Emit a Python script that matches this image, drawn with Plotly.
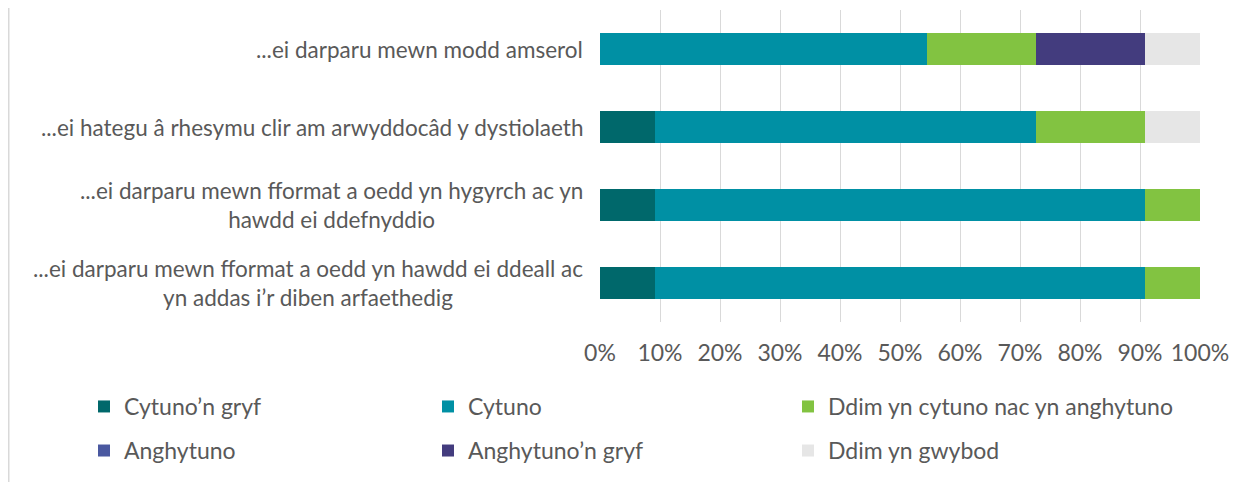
import plotly.graph_objects as go

categories = [
    "...ei darparu mewn modd amserol",
    "...ei hategu â rhesymu clir am arwyddocâd y dystiolaeth",
    "...ei darparu mewn fformat a oedd yn hygyrch ac yn<br>hawdd ei ddefnyddio",
    "...ei darparu mewn fformat a oedd yn hawdd ei ddeall ac<br>yn addas i’r diben arfaethedig",
]
series_names = [
    "Cytuno’n gryf",
    "Cytuno",
    "Ddim yn cytuno nac yn anghytuno",
    "Anghytuno",
    "Anghytuno’n gryf",
    "Ddim yn gwybod",
]
cytuno_gryf = [0.0, 9.1, 9.1, 9.1]
cytuno = [54.5, 63.6, 81.8, 81.8]
ddim_cytuno_nac = [18.2, 18.2, 9.1, 9.1]
anghytuno = [0.0, 0.0, 0.0, 0.0]
anghytuno_gryf = [18.2, 0.0, 0.0, 0.0]
ddim_gwybod = [9.1, 9.1, 0.0, 0.0]
x_ticks = [0, 10, 20, 30, 40, 50, 60, 70, 80, 90, 100]

values = [cytuno_gryf, cytuno, ddim_cytuno_nac, anghytuno, anghytuno_gryf, ddim_gwybod]
colors = ["#00686B", "#0090A4", "#82C341", "#4A58A0", "#433C7E", "#E6E6E6"]

OFF = 8  # page body margin
W, H = 1251 - OFF, 482 - OFF
# plot area in page pixels
P_LEFT, P_RIGHT, P_TOP, P_BOTTOM = 600, 1200, 10, 321.6
ML = P_LEFT - OFF
MR = W - (P_RIGHT - OFF)
MT = P_TOP - OFF
MB = H - (P_BOTTOM - OFF)
PW = W - ML - MR
PH = H - MT - MB

def px_x(page_px):
    return (page_px - P_LEFT) / PW

def px_y(page_py):
    return (P_BOTTOM - page_py) / PH

FONT = "Lato"
FS = 23
FS_LABEL = 22.5
TXT = "#595959"

# legend positions (symbol left px, row center px) in page coords
leg_pos = [(103, 406), (447, 406), (807, 406), (103, 450), (447, 450), (807, 450)]

fig = go.Figure()
legend_layouts = {}
for i, (name, vals, col) in enumerate(zip(series_names, values, colors)):
    lname = "legend" if i == 0 else f"legend{i+1}"
    fig.add_trace(go.Bar(
        y=categories, x=vals, name=name, orientation="h",
        marker=dict(color=col, line=dict(width=0)),
        legend=lname, hoverinfo="x+name",
    ))
    sx, sy = leg_pos[i]
    legend_layouts[lname] = dict(
        x=px_x(sx - 19), y=px_y(sy), xanchor="left", yanchor="middle",
        xref="paper", yref="paper",
        font=dict(family=FONT, size=FS, color=TXT),
        bgcolor="rgba(0,0,0,0)", borderwidth=0,
    )

annotations = []
for c in categories:
    annotations.append(dict(
        x=px_x(585), y=c, xref="paper", yref="y", text=c,
        showarrow=False, xanchor="right", yanchor="middle", align="center",
        font=dict(family=FONT, size=FS_LABEL, color=TXT),
    ))

fig.update_layout(
    width=W, height=H,
    margin=dict(l=ML, r=MR, t=MT, b=MB, autoexpand=False),
    barmode="stack", bargap=0.58,
    plot_bgcolor="white", paper_bgcolor="white",
    font=dict(family=FONT, size=FS, color=TXT),
    xaxis=dict(
        range=[0, 100], tickvals=x_ticks, ticktext=[f"{v}%" for v in x_ticks],
        showgrid=True, gridcolor="#D9D9D9", gridwidth=1,
        zeroline=False, showline=False, ticks="",
        tickfont=dict(family=FONT, size=FS, color=TXT),
        ticklabelstandoff=15,
    ),
    yaxis=dict(
        categoryorder="array", categoryarray=categories[::-1],
        showticklabels=False, showgrid=False, zeroline=False, showline=False, ticks="",
    ),
    annotations=annotations,
    shapes=[dict(type="line", xref="paper", yref="paper",
                 x0=px_x(8.75), x1=px_x(8.75), y0=px_y(482), y1=px_y(0),
                 line=dict(color="#D9D9D9", width=1.5))],
    showlegend=True,
    **legend_layouts,
)

fig.write_html("out.html")
